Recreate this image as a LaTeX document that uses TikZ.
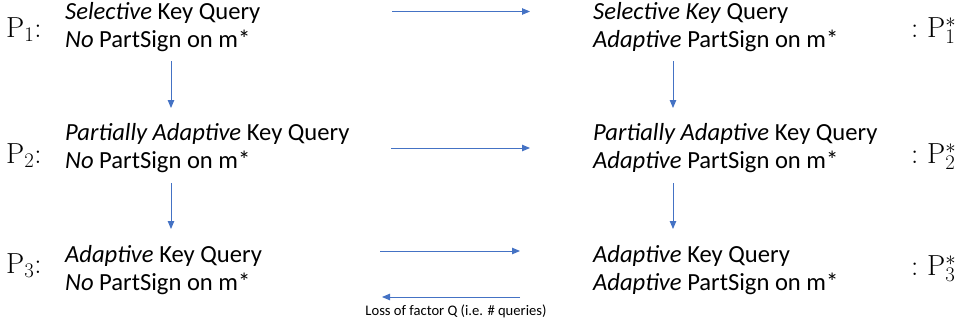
\documentclass[tikz,border=0pt]{standalone}
\usepackage{fontspec}
\setmainfont{Carlito}
\newfontfamily\lmfont{Latin Modern Roman}
\usetikzlibrary{arrows.meta}
\definecolor{arrowblue}{HTML}{4472C4}
\tikzset{
  x=1pt,y=-1pt,
  txt/.style={anchor=base west,inner sep=0pt,align=left,font=\fontsize{24.6}{28}\selectfont},
  plab/.style={anchor=base west,inner sep=0pt,font=\lmfont\fontsize{29}{30}\selectfont},
  small/.style={anchor=base,inner sep=0pt,font=\fontsize{14.6}{16}\selectfont},
  conn/.style={draw=arrowblue,line width=0.9pt,-{Triangle[length=8pt,width=6.5pt]}}
}
\begin{document}
\begin{tikzpicture}
\useasboundingbox (0,0) rectangle (959,324);
% left blocks (anchor = baseline of second line)
\node[txt] (l1) at (65,47.5) {\textit{Selective} Key Query\\\textit{No} PartSign on m*};
\node[txt] (l2) at (65,168) {\textit{Partially Adaptive} Key Query\\\textit{No} PartSign on m*};
\node[txt] (l3) at (65,290) {\textit{Adaptive} Key Query\\\textit{No} PartSign on m*};
% right blocks
\node[txt] (r1) at (593,47.5) {\textit{Selective Key} Query\\\textit{Adaptive} PartSign on m*};
\node[txt] (r2) at (593,168) {\textit{Partially Adaptive} Key Query\\\textit{Adaptive} PartSign on m*};
\node[txt] (r3) at (593,290) {\textit{Adaptive} Key Query\\\textit{Adaptive} PartSign on m*};
% P labels
\node[plab] (p1) at (6,37) {P$_1$:};
\node[plab] (p2) at (6,163) {P$_2$:};
\node[plab] (p3) at (6,273) {P$_3$:};
\node[plab] (q1) at (911,37) {:\ P$_1^*$};
\node[plab] (q2) at (911,163) {:\ P$_2^*$};
\node[plab] (q3) at (911,275) {:\ P$_3^*$};
% coordinates for arrows
\coordinate (h1a) at (392,11.5); \coordinate (h1b) at (530,11.5);
\coordinate (h2a) at (391,148); \coordinate (h2b) at (530,148);
\coordinate (h3a) at (380,251); \coordinate (h3b) at (520,251);
\coordinate (h4a) at (520,297); \coordinate (h4b) at (382,297);
\coordinate (v1a) at (171,61); \coordinate (v1b) at (171,108);
\coordinate (v2a) at (171,183); \coordinate (v2b) at (171,229);
\coordinate (v3a) at (673,61); \coordinate (v3b) at (673,108);
\coordinate (v4a) at (673,183); \coordinate (v4b) at (673,229);
\draw[conn] (h1a) -- (h1b);
\draw[conn] (h2a) -- (h2b);
\draw[conn] (h3a) -- (h3b);
\draw[conn] (h4a) -- (h4b);
\draw[conn] (v1a) -- (v1b);
\draw[conn] (v2a) -- (v2b);
\draw[conn] (v3a) -- (v3b);
\draw[conn] (v4a) -- (v4b);
\node[small] (loss) at (456,315) {Loss of factor Q (i.e. \# queries)};
\end{tikzpicture}
\end{document}
